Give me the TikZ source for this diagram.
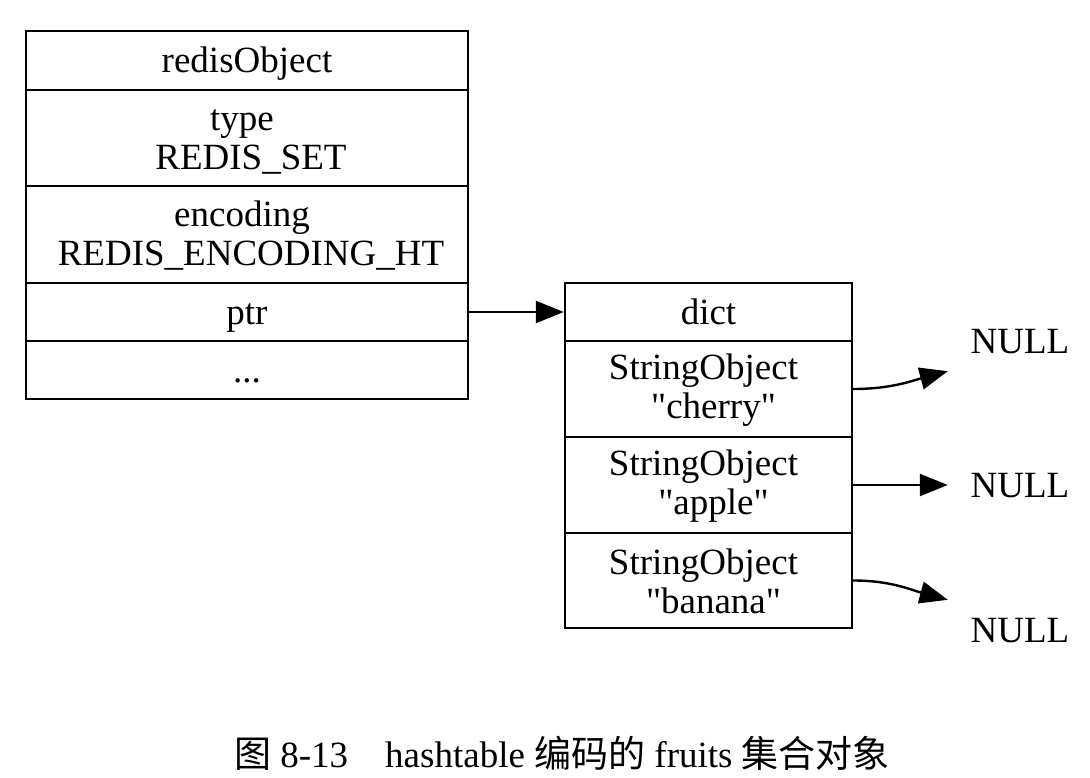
\documentclass[tikz,border=0pt]{standalone}
\usepackage{fontspec}
\setmainfont{Liberation Serif}
\newfontfamily\cjk{Noto Sans CJK SC}
\usetikzlibrary{arrows.meta}
\newcommand\tallstrut{\rule{0pt}{28pt}}
\newcommand\qq{\textquotedbl}
\begin{document}
\begin{tikzpicture}[x=1pt,y=-1pt,
  cell/.style={draw, line width=2.4pt, inner sep=0pt, align=center,
    font=\fontsize{37}{39}\selectfont},
  single/.style={cell, text height=28pt, text depth=3pt},
  lcell/.style={minimum width=442pt},
  rcell/.style={minimum width=287pt},
  nullnode/.style={inner sep=0pt, minimum width=144pt, minimum height=60pt,
    text height=24.5pt, text depth=0pt, font=\fontsize{37}{38}\selectfont},
  arr/.style={line width=2.4pt, -{Triangle[length=28pt,width=22pt]}},
  capt/.style={font=\fontsize{37}{38}\selectfont, anchor=base, inner sep=0pt}]
\useasboundingbox (0,0) rectangle (1090,778);
% left redisObject box
\node[single, lcell, minimum height=59pt] (ro) at (247,60.5) {redisObject};
\node[cell, lcell, minimum height=96pt] (type) at (247,138)
  {\tallstrut type\hspace*{10pt}\\\hspace*{8pt}REDIS\_SET};
\node[cell, lcell, minimum height=97pt] (enc) at (247,234.5)
  {\tallstrut encoding\hspace*{10pt}\\\hspace*{8pt}REDIS\_ENCODING\_HT};
\node[single, lcell, minimum height=58pt] (ptr) at (247,312) {ptr};
\node[single, lcell, minimum height=58pt] (dots) at (247,370) {...};
% right dict box
\node[single, rcell, minimum height=58pt] (dict) at (708.5,312) {dict};
\node[cell, rcell, minimum height=96pt] (cherry) at (708.5,389)
  {\tallstrut StringObject\hspace*{10pt}\\\hspace*{10pt}\qq cherry\qq};
\node[cell, rcell, minimum height=96pt] (apple) at (708.5,485)
  {\tallstrut StringObject\hspace*{10pt}\\\hspace*{10pt}\qq apple\qq};
\node[cell, rcell, minimum height=95pt] (banana) at (708.5,580.5)
  {\tallstrut StringObject\hspace*{10pt}\\\hspace*{10pt}\qq banana\qq};
% NULL nodes
\node[nullnode] (n1) at (1020,341) {NULL};
\node[nullnode] (n2) at (1020,485) {NULL};
\node[nullnode] (n3) at (1020,630) {NULL};
% connectors
\draw[arr] (ptr.east) -- (dict.west);
\draw[arr] (cherry.east) to[out=0,in=195] (n1.south west);
\draw[arr] (apple.east) -- (n2.west);
\draw[arr] (banana.east) to[out=0,in=165] (n3.north west);
% caption
\node[capt] (cap) at (562,767) {{\cjk 图} 8-13\quad hashtable {\cjk 编码的} fruits {\cjk 集合对象}};
\end{tikzpicture}
\end{document}
